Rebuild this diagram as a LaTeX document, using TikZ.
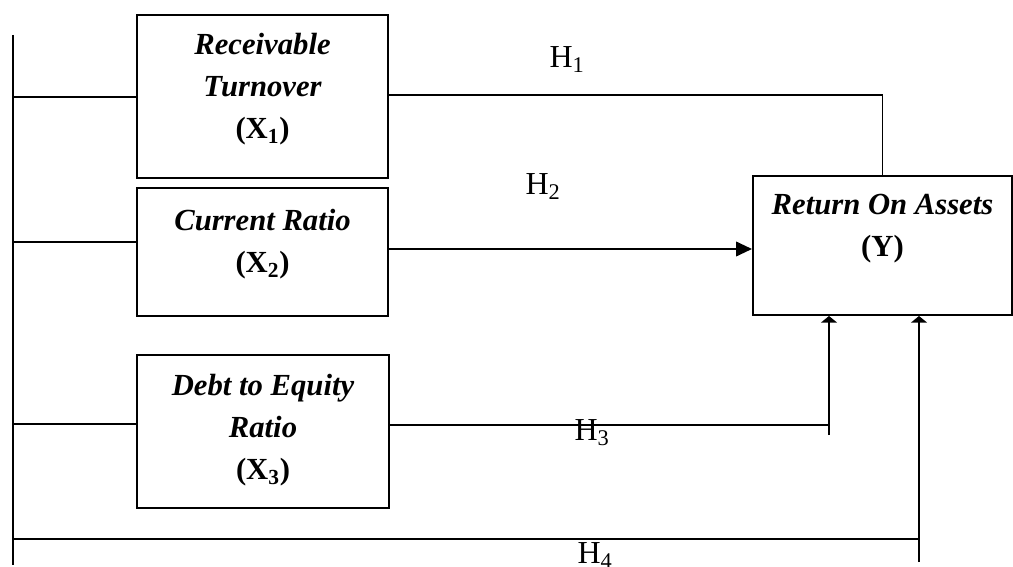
\documentclass[tikz,border=0pt]{standalone}
\usepackage{fontspec}
\setmainfont{Liberation Serif}
\usetikzlibrary{arrows.meta}

\tikzset{
  var/.style={draw, line width=1.5pt, inner sep=0pt},
  vartext/.style={anchor=north, align=center, inner sep=0pt,
    font=\fontsize{23}{31.5}\selectfont\bfseries\itshape},
  hyp/.style={inner sep=0pt, font=\fontsize{24}{28}\selectfont},
  link/.style={line width=1.4pt},
  sidearrow/.style={-{Triangle[length=12pt,width=11pt]}},
  uparrow/.style={-{Triangle[length=5pt,width=12pt]}},
}

\begin{document}
\begin{tikzpicture}[x=0.75pt,y=-0.75pt]
\useasboundingbox (0,0) rectangle (1013,567);

% variables
\node[var, minimum width=188.25pt, minimum height=122.25pt,
  label={[vartext, yshift=-14pt]north:Receivable\\Turnover\\\textup{(X\textsubscript{1})}}] (X1) at (262.5,96.5) {};
\node[var, minimum width=188.25pt, minimum height=96pt,
  label={[vartext, yshift=-16.5pt]north:Current Ratio\\\textup{(X\textsubscript{2})}}] (X2) at (262.5,252) {};
\node[var, minimum width=189pt, minimum height=114.75pt,
  label={[vartext, yshift=-15pt]north:Debt to Equity\\Ratio\\\textup{(X\textsubscript{3})}}] (X3) at (263,431.5) {};
\node[var, minimum width=194.25pt, minimum height=104.25pt,
  label={[vartext, yshift=-14pt]north:Return On Assets\\\textup{(Y)}}] (Y) at (882.5,245.5) {};

% left bus
\coordinate (bustop) at (13,35);
\coordinate (busbot) at (13,565);
\draw[link] (bustop) -- (busbot);
\coordinate (b1) at (13,97);
\coordinate (b2) at (13,242);
\coordinate (b3) at (13,424);
\coordinate (b4) at (13,539);
\draw[link] (b1) -- (b1 -| X1.west);
\draw[link] (b2) -- (b2 -| X2.west);
\draw[link] (b3) -- (b3 -| X3.west);

% H1, H2
\draw[link] (X1.east |- 0,95) -| (Y.north);
\draw[link, sidearrow] (X2.east |- 0,249) -- (Y.west |- 0,249);

% H3
\coordinate (h3) at (829,425);
\coordinate (h3foot) at (829,435);
\draw[link] (X3.east |- h3) -- (h3);
\draw[link, uparrow] (h3foot) -- (h3foot |- Y.south);

% H4
\coordinate (h4) at (919,539);
\coordinate (h4foot) at (919,562);
\draw[link] (b4) -- (h4);
\draw[link, uparrow] (h4foot) -- (h4foot |- Y.south);

% hypotheses
\node[hyp] (H1) at (567,60) {H\textsubscript{1}};
\node[hyp] (H2) at (543,187) {H\textsubscript{2}};
\node[hyp] (H3) at (592,433) {H\textsubscript{3}};
\node[hyp] (H4) at (595,556) {H\textsubscript{4}};
\end{tikzpicture}
\end{document}
